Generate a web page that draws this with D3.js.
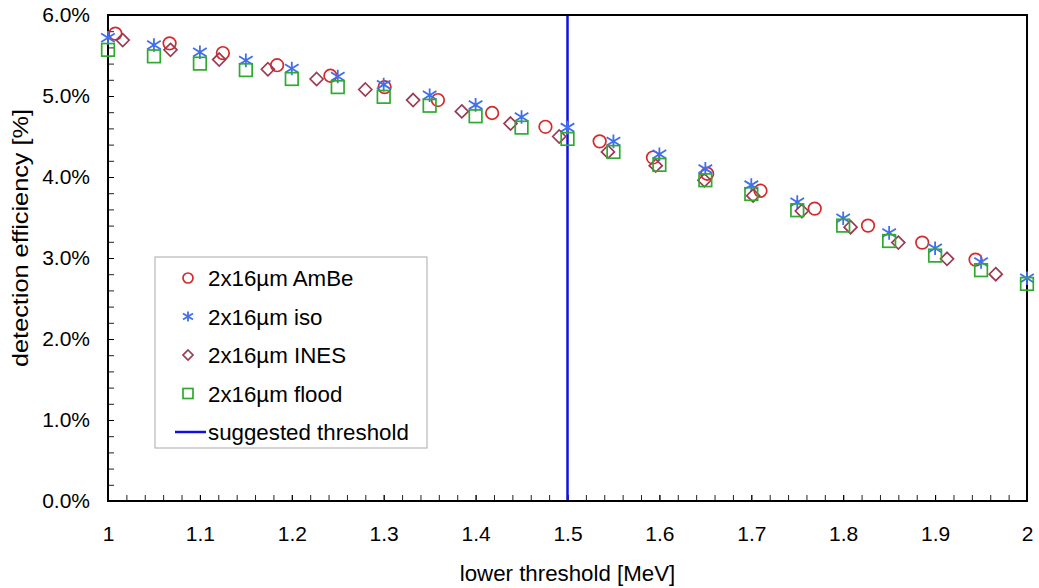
<!DOCTYPE html>
<html>
<head>
<meta charset="utf-8">
<script src="https://cdn.jsdelivr.net/npm/d3@7"></script>
<style>
  body { margin: 0; background: #fff; }
  svg { font-family: Arial, "Liberation Sans", sans-serif; }
</style>
</head>
<body>
<div id="chart"></div>
<script>
// data (efficiency in %)
var ambeX = [1.008, 1.067, 1.125, 1.184, 1.242, 1.301, 1.359, 1.418, 1.476, 1.535, 1.593, 1.652, 1.710, 1.769, 1.827, 1.886, 1.944];
var ambeY = [5.77, 5.65, 5.53, 5.38, 5.25, 5.11, 4.95, 4.79, 4.62, 4.44, 4.24, 4.04, 3.83, 3.61, 3.40, 3.19, 2.98];

var isoX = [1.00, 1.05, 1.10, 1.15, 1.20, 1.25, 1.30, 1.35, 1.40, 1.45, 1.50, 1.55, 1.60, 1.65, 1.70, 1.75, 1.80, 1.85, 1.90, 1.95, 2.00];
var isoY = [5.72, 5.63, 5.54, 5.44, 5.34, 5.24, 5.14, 5.01, 4.89, 4.74, 4.61, 4.44, 4.28, 4.10, 3.90, 3.69, 3.49, 3.31, 3.12, 2.95, 2.75];

var inesX = [1.016, 1.068, 1.121, 1.174, 1.227, 1.280, 1.332, 1.385, 1.438, 1.491, 1.544, 1.596, 1.649, 1.702, 1.755, 1.808, 1.860, 1.913, 1.966];
var inesY = [5.69, 5.57, 5.45, 5.33, 5.21, 5.08, 4.95, 4.81, 4.66, 4.50, 4.31, 4.14, 3.96, 3.77, 3.58, 3.38, 3.19, 2.99, 2.80];

var floodX = [1.00, 1.05, 1.10, 1.15, 1.20, 1.25, 1.30, 1.35, 1.40, 1.45, 1.50, 1.55, 1.60, 1.65, 1.70, 1.75, 1.80, 1.85, 1.90, 1.95, 2.00];
var floodY = [5.57, 5.49, 5.40, 5.32, 5.21, 5.11, 4.99, 4.88, 4.75, 4.61, 4.47, 4.31, 4.15, 3.96, 3.79, 3.59, 3.40, 3.21, 3.03, 2.85, 2.68];

var threshold = 1.5;

var xTicks = [1, 1.1, 1.2, 1.3, 1.4, 1.5, 1.6, 1.7, 1.8, 1.9, 2];
var yTicks = [0, 1, 2, 3, 4, 5, 6];
var xLabel = "lower threshold [MeV]";
var yLabel = "detection efficiency [%]";

var seriesNames = ["2x16µm AmBe", "2x16µm iso", "2x16µm INES", "2x16µm flood"];
var thresholdName = "suggested threshold";

var width = 1039, height = 588;
var margin = { top: 15, right: 12, bottom: 87, left: 108 };

var svg = d3.select("#chart").append("svg")
  .attr("width", width)
  .attr("height", height);

var x = d3.scaleLinear().domain([1, 2]).range([margin.left, width - margin.right]);
var y = d3.scaleLinear().domain([0, 6]).range([height - margin.bottom, margin.top]);

// minor ticks
svg.append("g")
  .attr("transform", "translate(0," + y(0) + ")")
  .call(d3.axisBottom(x).tickValues(d3.range(1, 2.001, 0.02)).tickSize(-6).tickFormat(""))
  .call(function (g) { g.select(".domain").remove(); })
  .selectAll("line").attr("stroke", "#222");

svg.append("g")
  .attr("transform", "translate(" + x(1) + ",0)")
  .call(d3.axisLeft(y).tickValues(d3.range(0, 6.001, 0.2)).tickSize(-6).tickFormat(""))
  .call(function (g) { g.select(".domain").remove(); })
  .selectAll("line").attr("stroke", "#222");

// labelled axes
var xAxis = svg.append("g")
  .attr("transform", "translate(0," + y(0) + ")")
  .call(d3.axisBottom(x).tickValues(xTicks).tickSizeInner(-6).tickSizeOuter(0).tickPadding(25)
    .tickFormat(function (d) { return d === 1 || d === 2 ? String(d) : d.toFixed(1); }));
xAxis.select(".domain").remove();
xAxis.selectAll("text").attr("font-size", 21).attr("fill", "#000");

var yAxis = svg.append("g")
  .attr("transform", "translate(" + x(1) + ",0)")
  .call(d3.axisLeft(y).tickValues(yTicks).tickSizeInner(-6).tickSizeOuter(0).tickPadding(18)
    .tickFormat(function (d) { return d.toFixed(1) + "%"; }));
yAxis.select(".domain").remove();
yAxis.selectAll("text").attr("font-size", 21).attr("fill", "#000");

// threshold line
svg.append("line")
  .attr("x1", x(threshold)).attr("x2", x(threshold))
  .attr("y1", y(6)).attr("y2", y(0))
  .attr("stroke", "#1010e0")
  .attr("stroke-width", 2.5);

// frame
svg.append("rect")
  .attr("x", x(1)).attr("y", y(6))
  .attr("width", x(2) - x(1)).attr("height", y(0) - y(6))
  .attr("fill", "none")
  .attr("stroke", "#000")
  .attr("stroke-width", 2);

// marker drawers
function circle(g, s) {
  g.append("circle").attr("r", s).attr("fill", "none").attr("stroke", "#d42a2a").attr("stroke-width", 1.7);
}
function star(g, s) {
  var a = s, b = s * 0.62;
  g.append("path")
    .attr("d", "M0," + (-s) + "V" + s + "M" + (-a) + "," + (-b) + "L" + a + "," + b + "M" + (-a) + "," + b + "L" + a + "," + (-b))
    .attr("stroke", "#3f6fef").attr("stroke-width", 1.8).attr("fill", "none");
}
function diamond(g, s) {
  g.append("path")
    .attr("d", "M0," + (-s) + "L" + s + ",0L0," + s + "L" + (-s) + ",0Z")
    .attr("fill", "none").attr("stroke", "#9c3a52").attr("stroke-width", 1.7);
}
function square(g, s) {
  g.append("rect").attr("x", -s).attr("y", -s).attr("width", 2 * s).attr("height", 2 * s)
    .attr("fill", "none").attr("stroke", "#2eaa2e").attr("stroke-width", 1.7);
}

var series = [
  { xs: ambeX, ys: ambeY, draw: circle, size: 6.3 },
  { xs: isoX, ys: isoY, draw: star, size: 6.8 },
  { xs: inesX, ys: inesY, draw: diamond, size: 6.5 },
  { xs: floodX, ys: floodY, draw: square, size: 6.3 }
];

series.forEach(function (s) {
  var pts = s.xs.map(function (v, i) { return [v, s.ys[i]]; });
  svg.append("g").selectAll("g")
    .data(pts)
    .enter()
    .append("g")
    .attr("transform", function (d) { return "translate(" + x(d[0]) + "," + y(d[1]) + ")"; })
    .each(function () { s.draw(d3.select(this), s.size); });
});

// axis titles
svg.append("text")
  .attr("x", (x(1) + x(2)) / 2)
  .attr("y", 581)
  .attr("text-anchor", "middle")
  .attr("font-size", 22.3)
  .text(xLabel);

svg.append("text")
  .attr("transform", "translate(28," + 238 + ") rotate(-90)")
  .attr("text-anchor", "middle")
  .attr("font-size", 22)
  .attr("textLength", 258)
  .attr("lengthAdjust", "spacingAndGlyphs")
  .text(yLabel);

// legend
var legend = svg.append("g");
legend.append("rect")
  .attr("x", 155).attr("y", 257)
  .attr("width", 272).attr("height", 191)
  .attr("fill", "#fff")
  .attr("stroke", "#aaa")
  .attr("stroke-width", 1);

series.forEach(function (s, i) {
  var g = legend.append("g").attr("transform", "translate(188," + (278 + i * 38.5) + ")");
  s.draw(g, 5);
  legend.append("text")
    .attr("x", 208).attr("y", 278 + i * 38.5)
    .attr("dy", "0.36em")
    .attr("font-size", 22.3)
    .text(seriesNames[i]);
});
legend.append("line")
  .attr("x1", 175).attr("x2", 206)
  .attr("y1", 432).attr("y2", 432)
  .attr("stroke", "#1010e0").attr("stroke-width", 2.5);
legend.append("text")
  .attr("x", 208).attr("y", 432)
  .attr("dy", "0.36em")
  .attr("font-size", 22.3)
  .text(thresholdName);
</script>
</body>
</html>
